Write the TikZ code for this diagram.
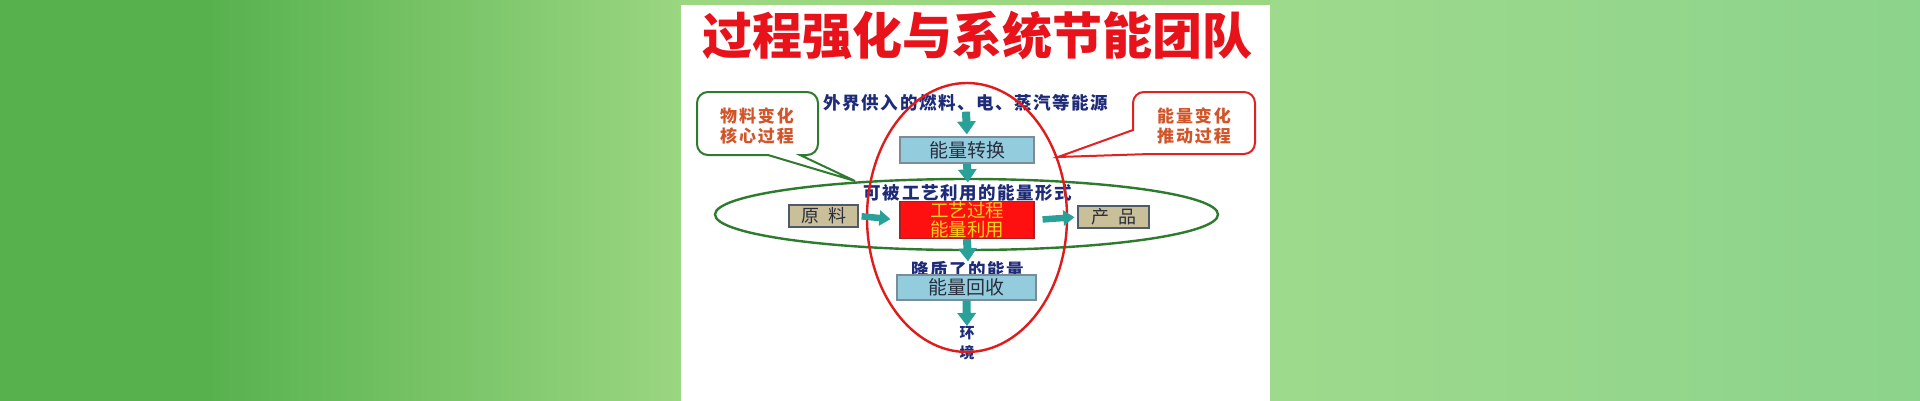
\documentclass[tikz,border=0pt]{standalone}
\usepackage{fontspec}
\newfontfamily\cjk{Noto Sans CJK SC}
\usetikzlibrary{arrows.meta}
\definecolor{bgdark}{HTML}{57B24E}
\definecolor{bglight}{HTML}{9BD681}
\definecolor{bgright}{HTML}{9EDA8C}
\definecolor{bgright2}{HTML}{8CD38C}
\definecolor{titlered}{HTML}{E8121A}
\definecolor{navy}{HTML}{1E2B78}
\definecolor{callouttxt}{HTML}{D2552A}
\definecolor{calloutgreen}{HTML}{2F7A2F}
\definecolor{calloutred}{HTML}{E02222}
\definecolor{ellred}{HTML}{E01B1B}
\definecolor{ellgreen}{HTML}{2E7A2E}
\definecolor{boxblue}{HTML}{93CDDD}
\definecolor{boxline}{HTML}{7A8C99}
\definecolor{boxtext}{HTML}{2A2E3E}
\definecolor{tanfill}{HTML}{C9BF98}
\definecolor{tanline}{HTML}{4F5A6B}
\definecolor{redfill}{HTML}{FF1010}
\definecolor{redline}{HTML}{A82020}
\definecolor{yellowtxt}{HTML}{F7D31E}
\definecolor{tealarrow}{HTML}{2AA198}
\tikzset{
  lbl/.style={font=\cjk\bfseries\fontsize{17.5}{19}\selectfont\addfontfeatures{LetterSpace=9}, text=navy, inner sep=0pt},
  small/.style={font=\cjk\bfseries\fontsize{15}{15}\selectfont, text=navy, inner sep=0pt},
  callout/.style={font=\cjk\bfseries\fontsize{17}{20}\selectfont\addfontfeatures{LetterSpace=11}, text=callouttxt, align=center, inner sep=0pt},
  bluebox/.style={draw=boxline, fill=boxblue, line width=1.2pt, minimum width=134pt, minimum height=26pt, inner sep=0pt, font=\cjk\fontsize{19}{19}\selectfont, text=boxtext},
  tanbox/.style={draw=tanline, fill=tanfill, line width=1.2pt, minimum width=69pt, minimum height=22pt, inner sep=0pt, font=\cjk\fontsize{18}{18}\selectfont, text=boxtext},
  procbox/.style={draw=redline, fill=redfill, line width=1.2pt, minimum width=134pt, minimum height=37pt, inner sep=0pt, align=center, font=\cjk\fontsize{18.5}{18.5}\selectfont, text=yellowtxt},
  varrow/.style={draw=tealarrow, line width=8pt, -{Triangle[width=18pt,length=13pt]}},
  harrow/.style={draw=tealarrow, line width=6.5pt, -{Triangle[width=15pt,length=11pt]}},
  ring/.style={line width=2.4pt}
}
\begin{document}
\begin{tikzpicture}[x=1pt,y=-1pt]
\useasboundingbox (0,0) rectangle (1920,400);
% background
\fill[bgdark] (-5,-5) rectangle (212,405);
\shade[left color=bgdark, right color=bglight] (210,-5) rectangle (682,405);
\shade[left color=bgright, right color=bgright2] (1269,-5) rectangle (1925,405);
\fill[bglight] (681,-5) rectangle (1270,5);
\fill[white] (681,5) rectangle (1270,405);
% title
\node[font=\cjk\bfseries\fontsize{50}{50}\selectfont, text=titlered, inner sep=0pt] (title) at (977,35) {过程强化与系统节能团队};
% callouts
\draw[calloutgreen, line width=2pt, fill=white]
  (768,155) [rounded corners=11pt] -- (697,155) -- (697,92) -- (818,92) -- (818,155) [sharp corners] -- (800,155) -- (855,181) -- cycle;
\node[callout] (lc) at (757,126) {物料变化\\核心过程};
\draw[calloutred, line width=2pt, fill=white]
  (1133,130) [rounded corners=11pt] -- (1133,92) -- (1255,92) -- (1255,154) [sharp corners] -- (1150,154) -- (1058,157) -- cycle;
\node[callout] (rc) at (1194,126) {能量变化\\推动过程};
% labels
\node[lbl] (src) at (966,103) {外界供入的燃料、电、蒸汽等能源};
\node[lbl] (usable) at (968,193) {可被工艺利用的能量形式};
\node[lbl] (degraded) at (968,270) {降质了的能量};
\node[small] (env1) at (967,333) {环};
\node[small] (env2) at (967,353) {境};
% ellipses
\draw[ring, ellgreen] (966.5,214.5) ellipse [x radius=251.5, y radius=35.5];
\draw[ring, ellred] (967,217.5) ellipse [x radius=100, y radius=134.5];
% boxes
\node[bluebox] (conv) at (967,150) {能量转换};
\node[procbox] (proc) at (967,220) {工艺过程\\能量利用};
\node[bluebox, minimum width=139pt, minimum height=25pt] (recov) at (966.5,287.5) {能量回收};
\node[tanbox] (raw) at (823.5,216) {原\hspace{9pt}料};
\node[tanbox, minimum width=71pt] (prod) at (1113.5,217) {产\hspace{9pt}品};
% arrows
\draw[varrow, shorten <=0pt, shorten >=2pt] (src.south) -- (conv.north);
\draw[varrow, shorten >=2pt] (conv.south) -- (usable.north);
\draw[varrow, shorten >=0pt] (proc.south) -- (degraded.north);
\draw[varrow, shorten >=0pt] (recov.south) -- (env1.north);
\draw[harrow, shorten <=3pt, shorten >=9pt] (raw.east) -- (proc.west);
\draw[harrow, shorten <=8pt, shorten >=3pt] (proc.east) -- (prod.west);
\end{tikzpicture}
\end{document}
